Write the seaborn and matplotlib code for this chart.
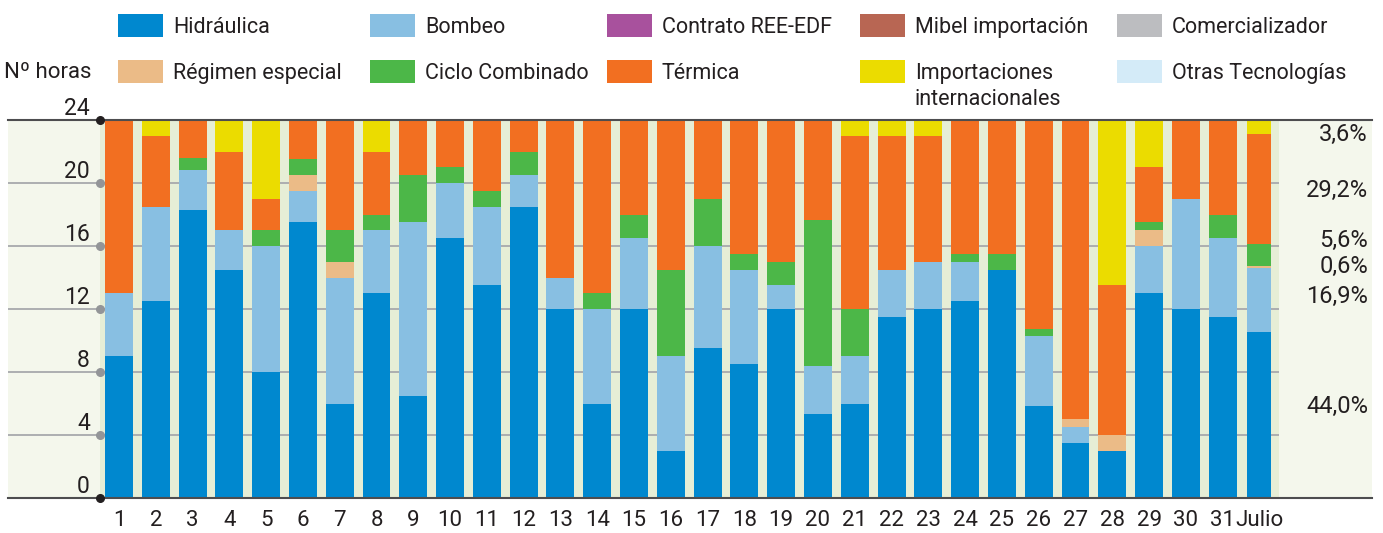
import matplotlib
matplotlib.use("Agg")
import matplotlib.pyplot as plt
from matplotlib.patches import Rectangle
import pandas as pd
import seaborn as sns

# ---- datos (horas al dia por tecnologia) ----
days = [str(d) for d in range(1, 32)] + ["Julio"]

hidraulica = [9, 12.5, 18.3, 14.5, 8, 17.5, 6, 13, 6.5, 16.5, 13.5, 18.5, 12, 6, 12, 3,
              9.5, 8.5, 12, 5.35, 6, 11.5, 12, 12.5, 14.5, 5.85, 3.5, 3, 13, 12, 11.5]
bombeo = [4, 6, 2.5, 2.5, 8, 2, 8, 4, 11, 3.5, 5, 2, 2, 6, 4.5, 6,
          6.5, 6, 1.5, 3, 3, 3, 3, 2.5, 0, 4.45, 1, 0, 3, 7, 5]
regimen = [0, 0, 0, 0, 0, 1, 1, 0, 0, 0, 0, 0, 0, 0, 0, 0,
           0, 0, 0, 0, 0, 0, 0, 0, 0, 0, 0.5, 1, 1, 0, 0]
ciclo = [0, 0, 0.8, 0, 1, 1, 2, 1, 3, 1, 1, 1.5, 0, 1, 1.5, 5.5,
         3, 1, 1.5, 9.3, 3, 0, 0, 0.5, 1, 0.4, 0, 0, 0.5, 0, 1.5]
termica = [11, 4.5, 2.4, 5, 2, 2.5, 7, 4, 3.5, 3, 4.5, 2, 10, 11, 6, 9.5,
           5, 8.5, 9, 6.35, 11, 8.5, 8, 8.5, 8.5, 13.3, 19, 9.5, 3.5, 5, 6]
importacion = [0, 1, 0, 2, 5, 0, 0, 2, 0, 0, 0, 0, 0, 0, 0, 0,
               0, 0, 0, 0, 1, 1, 1, 0, 0, 0, 0, 10.5, 3, 0, 0]

# media del mes (%), en el mismo orden de apilado
julio_pct = [44.0, 16.9, 0.6, 5.6, 29.2, 3.6]
pct_labels = ["44,0%", "16,9%", "0,6%", "5,6%", "29,2%", "3,6%"]
pct_label_y = [5.8, 12.78, 14.73, 16.38, 19.5, 23.1]

stack = ["Hidráulica", "Bombeo", "Régimen especial", "Ciclo Combinado", "Térmica",
         "Importaciones internacionales"]
colors = {
    "Hidráulica": "#0088cf",
    "Bombeo": "#88bfe2",
    "Contrato REE-EDF": "#a8519d",
    "Mibel importación": "#b86653",
    "Comercializador": "#bcbdc0",
    "Régimen especial": "#ebbb87",
    "Ciclo Combinado": "#4cb748",
    "Térmica": "#f26f21",
    "Importaciones internacionales": "#ebdc00",
    "Otras Tecnologías": "#d4ebf8",
}

series = [hidraulica, bombeo, regimen, ciclo, termica, importacion]
df = pd.DataFrame({name: vals + [p * 24 / 100] for name, vals, p in zip(stack, series, julio_pct)},
                  index=days)
cum = df.cumsum(axis=1)

# ---- figura ----
sns.set_theme(style="white")
plt.rcParams['font.family'] = ['Roboto', 'DejaVu Sans']
plt.rcParams['text.color'] = '#231f20'
TXT = '#231f20'

W, H = 1383, 533
fig = plt.figure(figsize=(W / 100, H / 100), dpi=100)
ax = fig.add_axes([8 / W, 35 / H, (1372 - 8) / W, 378 / H])
ax.set_facecolor('#f4f7ec')

x0, x1 = -3.017, 34.06
green_l, green_r = -0.516, 31.53
ax.axvspan(green_l, green_r, color='#e6eed6', zorder=0, lw=0)
ax.hlines(range(4, 24, 4), x0, green_r, color='#a7a9ac', lw=1.3, zorder=1)

# barras apiladas: se dibuja el acumulado de arriba abajo
for name in reversed(stack):
    sns.barplot(x=days, y=cum[name].values, color=colors[name], width=0.76,
                saturation=1, linewidth=0, errorbar=None, ax=ax, zorder=2)

# barra del mes algo mas estrecha
for c in ax.containers:
    p = c.patches[-1]
    p.set_x(31 - 0.325)
    p.set_width(0.65)

ax.set_xlim(x0, x1)
ax.set_ylim(0, 24)
ax.set_xlabel('')
ax.set_ylabel('')
ax.set_yticks([])
ax.set_xticks(range(len(days)))
ax.set_xticklabels(days, fontsize=16, color=TXT)
ax.tick_params(axis='x', length=0, pad=9)
for s in ['left', 'right']:
    ax.spines[s].set_visible(False)
for s in ['top', 'bottom']:
    ax.spines[s].set_color('#4d4d4f')
    ax.spines[s].set_linewidth(1.5)

# eje y a mano (etiquetas sobre la linea)
for v in range(0, 25, 4):
    ax.text(-0.79, v + 0.33, str(v), ha='right', va='baseline', fontsize=16.5, color=TXT)
ax.scatter([green_l] * 5, range(4, 24, 4), s=30, color='#939598', zorder=5, clip_on=False)
ax.scatter([green_l] * 2, [0, 24], s=30, color=TXT, zorder=5, clip_on=False)

for lbl, y in zip(pct_labels, pct_label_y):
    ax.text(33.95, y, lbl, ha='right', va='center', fontsize=17, color=TXT)

fig.text(92 / W, 1 - 73 / H, "Nº horas", ha='right', va='center', fontsize=16, color=TXT)

# leyenda
legend_rows = [
    ["Hidráulica", "Bombeo", "Contrato REE-EDF", "Mibel importación", "Comercializador"],
    ["Régimen especial", "Ciclo Combinado", "Térmica", "Importaciones internacionales",
     "Otras Tecnologías"],
]
col_x = [118, 370, 607, 860, 1117]
row_top = [14, 60]
row_base = [33, 79]
for r, row in enumerate(legend_rows):
    for cx, name in zip(col_x, row):
        fig.add_artist(Rectangle((cx / W, 1 - (row_top[r] + 23) / H), 45 / W, 23 / H,
                                 transform=fig.transFigure, color=colors[name], lw=0))
        label = name.replace("Importaciones ", "Importaciones\n")
        yb = row_base[r] + 26 * label.count("\n")   # baseline de la ultima linea
        fig.text((cx + 55) / W, 1 - yb / H, label, ha='left', va='baseline',
                 fontsize=15.5, color=TXT, linespacing=1.3)

fig.savefig("out.png", dpi=100)
